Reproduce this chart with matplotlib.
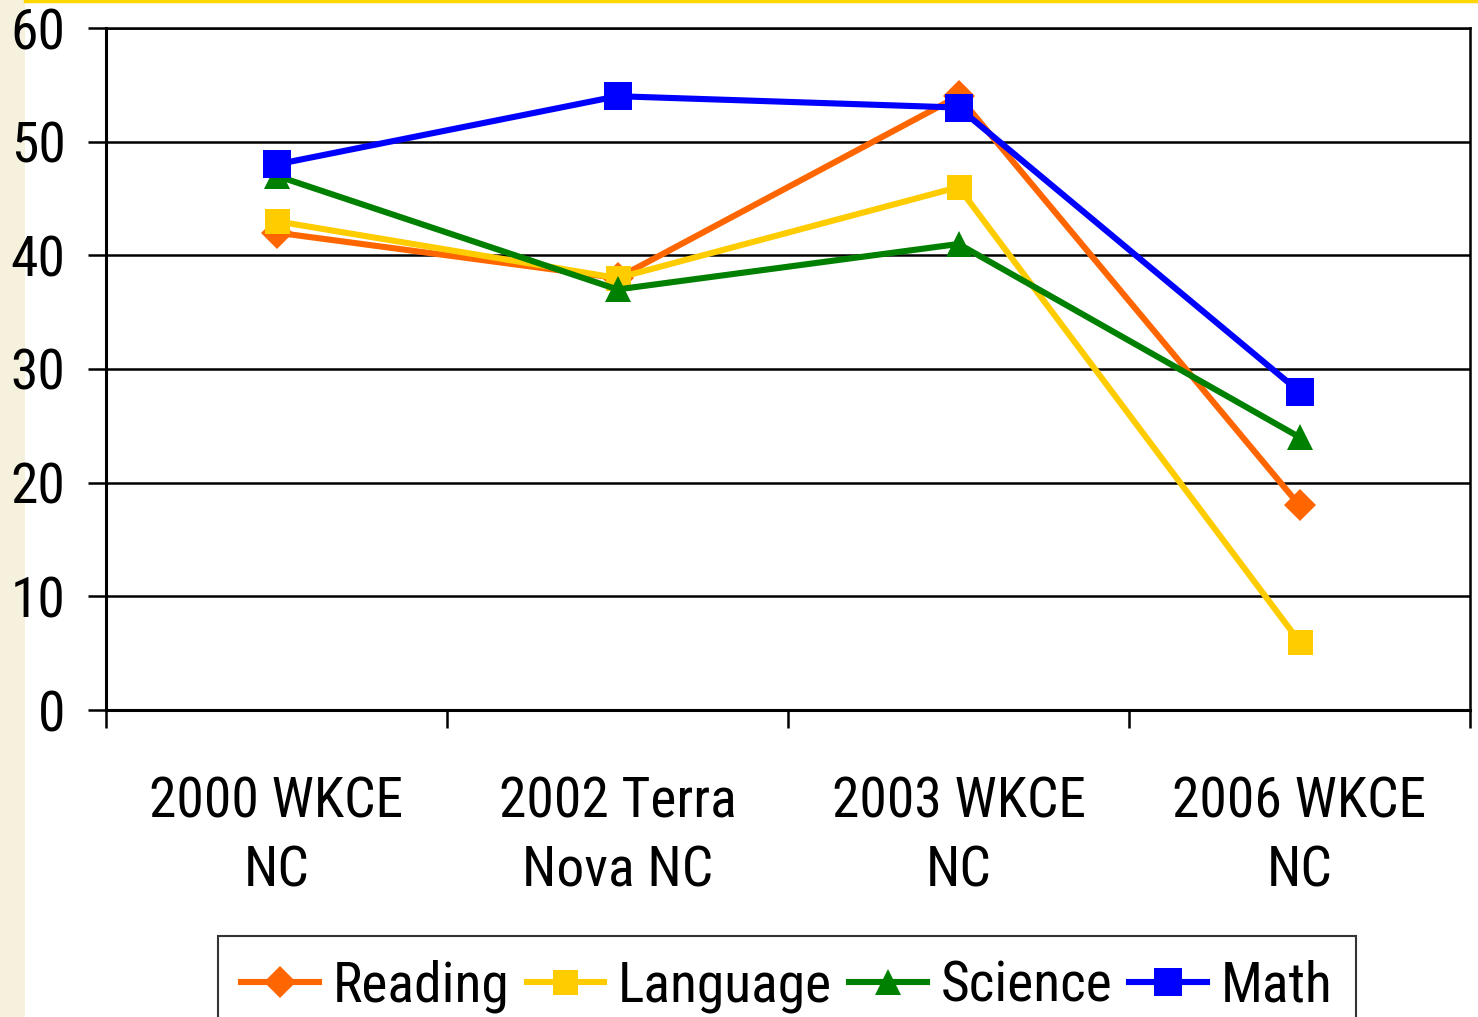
import matplotlib
matplotlib.use("Agg")
import matplotlib.pyplot as plt
from matplotlib import font_manager
from matplotlib.patches import Rectangle
from matplotlib.lines import Line2D

categories = ["2000 WKCE\nNC", "2002 Terra\nNova NC", "2003 WKCE\nNC", "2006 WKCE\nNC"]
reading = [42, 38, 54, 18]
language = [43, 38, 46, 6]
science = [47, 37, 41, 24]
math_ = [48, 54, 53, 28]
y_ticks = [0, 10, 20, 30, 40, 50, 60]

# The original uses Arial Narrow; take a narrow face if one is installed,
# otherwise fall back to condensed DejaVu at a slightly smaller size.
names = {f.name for f in font_manager.fontManager.ttflist}
stretches = {(f.name, f.stretch) for f in font_manager.fontManager.ttflist}
FONT, STRETCH, FS = ["DejaVu Sans"], "normal", 36
for cand in ["Liberation Sans Narrow", "Arial Narrow", "Roboto Condensed",
             "Open Sans Condensed", "Noto Sans Condensed"]:
    if cand in names:
        FONT, STRETCH, FS = [cand, "DejaVu Sans"], "normal", 40
        break
else:
    if any(n == "DejaVu Sans" and s == "condensed" for n, s in stretches):
        STRETCH = "condensed"
plt.rcParams["font.family"] = FONT
plt.rcParams["font.stretch"] = STRETCH

fig = plt.figure(figsize=(14.78, 10.17), dpi=100)
fig.patch.set_facecolor("white")

# slide background remnants: beige strip on the left, gold rule on top
fig.add_artist(Rectangle((0, 0), 25 / 1478, 1, transform=fig.transFigure,
                         facecolor="#f6f1dc", edgecolor="none", zorder=0))
fig.add_artist(Line2D([25 / 1478, 1], [0.999, 0.999], transform=fig.transFigure,
                      color="#ffd700", linewidth=2.5))

ax = fig.add_axes([106 / 1478, 1 - 710 / 1017, (1470 - 106) / 1478, (710 - 28) / 1017])

series = [
    ("Reading", reading, "#ff6600", "D", 16),
    ("Language", language, "#ffcc00", "s", 18),
    ("Science", science, "#008000", "^", 19),
    ("Math", math_, "#0000ff", "s", 20),
]
xs = list(range(len(categories)))
for name, vals, col, mk, ms in series:
    ax.plot(xs, vals, color=col, linewidth=4.4, marker=mk, markersize=ms,
            markeredgewidth=0, label=name, solid_joinstyle="miter")

ax.set_xlim(-0.5, len(categories) - 0.5)
ax.set_ylim(0, 60)
ax.set_yticks(y_ticks)
ax.set_yticklabels([str(v) for v in y_ticks])
ax.yaxis.grid(True, color="black", linewidth=1.8)
ax.set_axisbelow(True)

ax.set_xticks([i - 0.5 for i in range(len(categories) + 1)])
ax.set_xticklabels([])
ax.set_xticks(xs, minor=True)
ax.set_xticklabels(categories, minor=True, linespacing=1.38)
ax.tick_params(axis="x", which="minor", length=0, pad=47, labelsize=FS)
ax.tick_params(axis="x", which="major", length=13, width=1.8, direction="out")
ax.tick_params(axis="y", length=13, width=1.8, direction="out", pad=16, labelsize=FS)

for s in ax.spines.values():
    s.set_color("black")
    s.set_linewidth(1.8)
ax.spines["left"].set_linewidth(2.2)
ax.spines["bottom"].set_linewidth(2.2)

leg = fig.legend(loc="upper center", bbox_to_anchor=(787 / 1478, 1 - 936 / 1017),
                 ncol=4, fontsize=FS, frameon=True, fancybox=False,
                 handlelength=1.4, handletextpad=0.25, columnspacing=0.3,
                 borderpad=0.42, borderaxespad=0)
leg.get_frame().set_edgecolor("black")
leg.get_frame().set_linewidth(1.5)

fig.savefig("out.png", dpi=100, facecolor="white")
